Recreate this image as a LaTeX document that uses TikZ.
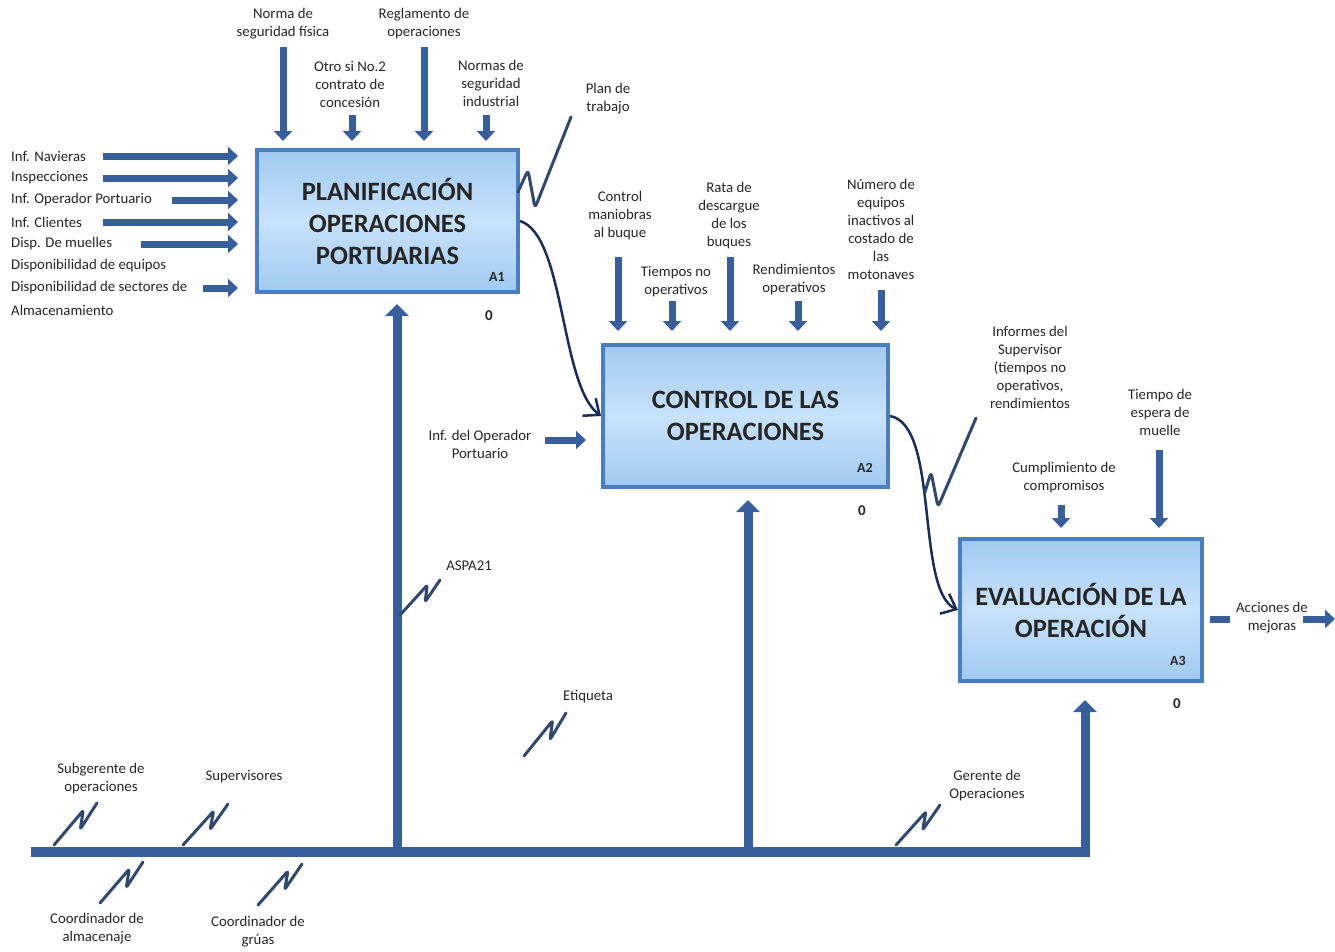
\documentclass[tikz,border=0pt]{standalone}
\usepackage{fontspec}
\setmainfont{Carlito}
\usetikzlibrary{arrows.meta,calc}
\definecolor{arrowblue}{RGB}{56,94,155}
\definecolor{boxedge}{RGB}{74,126,190}
\definecolor{boxtop}{RGB}{160,201,241}
\definecolor{boxmid}{RGB}{200,226,250}
\definecolor{flowline}{RGB}{25,45,85}
\definecolor{tick}{RGB}{50,72,108}
\newcommand\tickmark[2]{\draw[squig] (#1) -- ($(#1)!0.68!(#2)+(0,-6)$) -- ($(#1)!0.38!(#2)+(10,0)$) -- (#2);}
\begin{document}
\begin{tikzpicture}[x=1pt,y=-1pt,
  lbl/.style={font=\fontsize{14.8}{18}\selectfont, align=center, inner sep=0pt, text=black!85},
  lleft/.style={lbl, anchor=west},
  box/.style={draw=boxedge, line width=4pt, top color=boxtop, bottom color=boxtop, middle color=boxmid,
    minimum height=142pt, font=\bfseries\fontsize{26.5}{32}\selectfont, align=center, text=black!85},
  tag/.style={font=\bfseries\fontsize{14}{16}\selectfont, inner sep=0pt, text=black!85},
  zero/.style={font=\bfseries\fontsize{15}{17}\selectfont, inner sep=0pt, text=black!85},
  arr/.style={arrowblue, line width=7pt, -{Triangle[width=18pt,length=10pt]}},
  mecharr/.style={arrowblue, line width=9pt, -{Triangle[width=23pt,length=12pt]}},
  bar/.style={arrowblue, line width=10pt},
  flow/.style={flowline, line width=2.5pt, -{Straight Barb[length=13pt,width=22pt]}},
  squig/.style={tick, line width=3pt, rounded corners=2pt, line cap=round, line join=round}
]
\fill[white] (0,0) rectangle (1335,951);
\useasboundingbox (0,0) rectangle (1335,951);

% activity boxes
\node[box, minimum width=261pt] (a1) at (387.5,221) {PLANIFICACIÓN\\OPERACIONES\\PORTUARIAS};
\node[box, minimum width=285pt] (a2) at (745.5,416) {CONTROL DE LAS\\OPERACIONES};
\node[box, minimum width=242pt] (a3) at (1081,610) {EVALUACIÓN DE LA\\OPERACIÓN};
\node[tag] (a1tag) at (497,277) {A1};
\node[tag] (a2tag) at (865,468) {A2};
\node[tag] (a3tag) at (1178,661) {A3};
\node[zero] (a1z) at (489,316) {0};
\node[zero] (a2z) at (862,511) {0};
\node[zero] (a3z) at (1177,704) {0};

% inputs of A1
\node[lleft] (i1) at (11,156) {Inf. Navieras};
\node[lleft] (i2) at (11,178) {Inspecciones};
\node[lleft] (i3) at (11,200) {Inf. Operador Portuario};
\node[lleft] (i4) at (11,222) {Inf. Clientes};
\node[lleft] (i5) at (11,244) {Disp. De muelles};
\node[lleft] (i6) at (11,266) {Disponibilidad de equipos};
\node[lleft] (i7) at (11,288) {Disponibilidad de sectores de};
\node[lleft] (i8) at (11,310) {Almacenamiento};
\coordinate (ti1) at (103,156);
\coordinate (ti2) at (103,178);
\coordinate (ti3) at (172,200);
\coordinate (ti4) at (103,222);
\coordinate (ti5) at (141,244);
\coordinate (ti7) at (203,288);
\foreach \c in {ti1,ti2,ti3,ti4,ti5,ti7}
  \draw[arr, shorten >=17pt] (\c) -- (\c -| a1.west);

% controls of A1
\node[lbl] (nsf) at (283,24) {Norma de\\seguridad física};
\node[lbl] (otro) at (350,84) {Otro si No.2\\contrato de\\concesión};
\node[lbl] (regl) at (424,24) {Reglamento de\\operaciones};
\node[lbl] (nsi) at (491,83) {Normas de\\seguridad\\industrial};
\coordinate (tc1) at (283,47);
\coordinate (tc2) at (352,115);
\coordinate (tc3) at (424,47);
\coordinate (tc4) at (486,115);
\foreach \c in {tc1,tc2,tc3,tc4}
  \draw[arr, shorten >=7pt] (\c) -- (\c |- a1.north);

% output of A1
\node[lbl] (plan) at (608,99) {Plan de\\trabajo};
\coordinate (planA) at (518,192);
\coordinate (planB) at (571,117);
\draw[squig, rounded corners=4pt] (planA) -- (528,170) -- (535,208) -- (planB);
\draw[flow] (a1.east) .. controls (565,235) and (560,385) .. (a2.west);

% controls of A2
\node[lbl] (cmb) at (620,216) {Control\\maniobras\\al buque};
\node[lbl] (tno) at (676,282) {Tiempos no\\operativos};
\node[lbl] (rata) at (729,215.5) {Rata de\\descargue\\de los\\buques};
\node[lbl] (rend) at (794,280) {Rendimientos\\operativos};
\node[lbl] (num) at (881,229) {Número de\\equipos\\inactivos al\\costado de\\las\\motonaves};
\coordinate (tk1) at (618,257);
\coordinate (tk2) at (672,301);
\coordinate (tk3) at (730,257);
\coordinate (tk4) at (798,301);
\coordinate (tk5) at (881,290);
\foreach \c in {tk1,tk2,tk3,tk4,tk5}
  \draw[arr, shorten >=12pt] (\c) -- (\c |- a2.north);

% input of A2
\node[lbl] (infop) at (480,444) {Inf. del Operador\\Portuario};
\coordinate (tin) at (545,440);
\draw[arr, shorten >=15pt] (tin) -- (tin -| a2.west);

% output of A2
\node[lbl] (infs) at (1030,367) {Informes del\\Supervisor\\(tiempos no\\operativos,\\rendimientos};
\draw[flow] (a2.east) .. controls (940,425) and (915,590) .. (a3.west);
\coordinate (infA) at (925,492);
\coordinate (infB) at (976,418);
\draw[squig, rounded corners=4pt] (infA) -- (931,472) -- (938,507) -- (infB);

% controls of A3
\node[lbl] (cump) at (1064,478) {Cumplimiento de\\compromisos};
\node[lbl] (tesp) at (1160,412) {Tiempo de\\espera de\\muelle};
\coordinate (tm1) at (1061,505);
\coordinate (tm2) at (1159,450);
\foreach \c in {tm1,tm2}
  \draw[arr, shorten >=9pt] (\c) -- (\c |- a3.north);

% output of A3
\node[lbl] (acc) at (1272,618) {Acciones de\\mejoras};
\coordinate (stubA) at (1210,619);
\coordinate (stubB) at (1230,619);
\draw[arrowblue, line width=7pt] (stubA) -- (stubB);
\coordinate (outA) at (1303,619);
\coordinate (outB) at (1335,619);
\draw[arr] (outA) -- (outB);

% mechanisms
\coordinate (barL) at (31,852);
\coordinate (barR) at (1090,852);
\draw[bar] (barL) -- (barR);
\coordinate (m1) at (397,856);
\coordinate (m2) at (748,856);
\coordinate (m3) at (1085,856);
\draw[mecharr, shorten >=10pt] (m1) -- (m1 |- a1.south);
\draw[mecharr, shorten >=11pt] (m2) -- (m2 |- a2.south);
\draw[mecharr, shorten >=17pt] (m3) -- (m3 |- a3.south);

% mechanism labels and their ticks
\node[lbl] (sub) at (101,779) {Subgerente de\\operaciones};
\node[lbl] (sup) at (244,777) {Supervisores};
\node[lbl] (coal) at (97,929) {Coordinador de\\almacenaje};
\node[lbl] (cogr) at (258,932) {Coordinador de\\grúas};
\node[lbl] (aspa) at (469,566) {ASPA21};
\node[lbl] (etiq) at (588,697) {Etiqueta};
\node[lbl] (ger) at (987,786) {Gerente de\\Operaciones};
\coordinate (subA) at (54,845);   \coordinate (subB) at (97,803);
\coordinate (supA) at (183,845);  \coordinate (supB) at (228,804);
\coordinate (coalA) at (100,903); \coordinate (coalB) at (143,862);
\coordinate (cogrA) at (258,905); \coordinate (cogrB) at (302,864);
\coordinate (aspaA) at (400,615); \coordinate (aspaB) at (440,580);
\coordinate (etiqA) at (524,756); \coordinate (etiqB) at (566,713);
\coordinate (gerA) at (896,845);  \coordinate (gerB) at (940,805);
\tickmark{subA}{subB}
\tickmark{supA}{supB}
\tickmark{coalA}{coalB}
\tickmark{cogrA}{cogrB}
\tickmark{aspaA}{aspaB}
\tickmark{etiqA}{etiqB}
\tickmark{gerA}{gerB}
\end{tikzpicture}
\end{document}
